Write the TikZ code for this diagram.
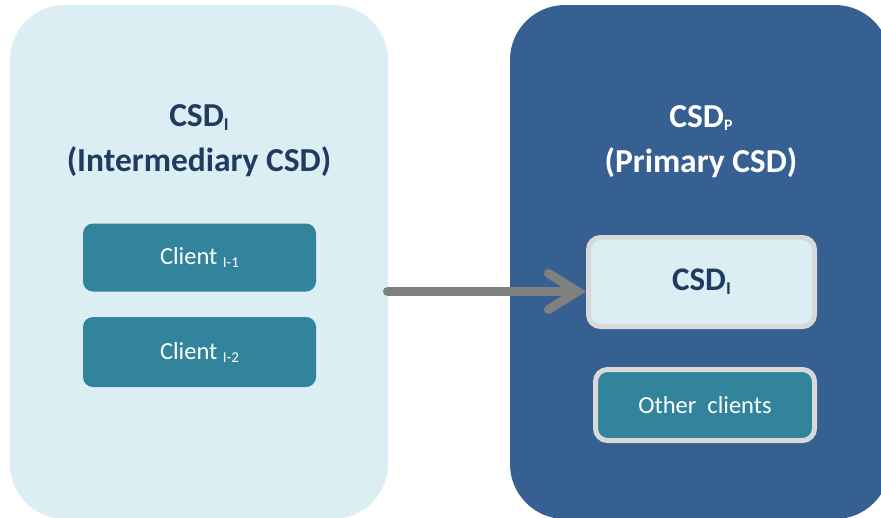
\documentclass[tikz,border=0pt]{standalone}
\usepackage{fontspec}
\setmainfont{Carlito}
\usetikzlibrary{calc}
\definecolor{paleblue}{HTML}{DBEEF4}
\definecolor{darkblue}{HTML}{376092}
\definecolor{tealc}{HTML}{31849B}
\definecolor{navy}{HTML}{1F3B5F}
\definecolor{lgray}{HTML}{D9D9D9}
\definecolor{agray}{HTML}{808080}
\tikzset{
  bigbox/.style={rectangle, rounded corners=55pt, inner sep=0pt},
  clientbox/.style={rectangle, rounded corners=10pt, fill=tealc, text=white, inner sep=0pt,
    minimum width=233pt, font=\fontsize{24.5}{28}\selectfont},
  framedbox/.style={rectangle, rounded corners=12pt, draw=lgray, line width=5pt, inner sep=0pt},
  titletext/.style={align=center, font=\bfseries\fontsize{33.5}{45}\selectfont, inner sep=0pt},
  conn/.style={draw=agray, line width=9pt, line cap=round, line join=miter}
}
\newcommand{\subI}[1]{{\fontsize{18}{18}\selectfont\raisebox{-4pt}{#1}}}
\newcommand{\subP}[1]{{\fontsize{16}{16}\selectfont\raisebox{-3pt}{#1}}}
\newcommand{\subC}[1]{{\fontsize{15}{15}\selectfont\raisebox{-3pt}{#1}}}
\begin{document}
\begin{tikzpicture}[x=1pt,y=-1pt]
\useasboundingbox (0,0) rectangle (881,517);
% big boxes
\node[bigbox, fill=paleblue, minimum width=378pt, minimum height=514pt] (left) at (199,262) {};
\node[bigbox, fill=darkblue, minimum width=380pt, minimum height=514pt] (right) at (700,262) {};
% titles
\node[titletext, text=navy, anchor=base] (titleI) at (199,171) {CSD\subI{I}\\(Intermediary CSD)};
\node[titletext, text=white, anchor=base] (titleP) at (701,172) {CSD\subP{P}\\(Primary CSD)};
% clients
\node[clientbox, minimum height=68pt] (c1) at (199.5,257.5) {Client \subC{I-1}};
\node[clientbox, minimum height=70pt] (c2) at (199.5,352) {Client \subC{I-2}};
% right inner boxes
\node[framedbox, fill=paleblue, text=navy, minimum width=226pt, minimum height=89pt,
  font=\bfseries\fontsize{33}{36}\selectfont] (csdI) at (701.5,282) {CSD\subI{I}};
\node[framedbox, fill=tealc, text=white, minimum width=219pt, minimum height=71pt,
  font=\fontsize{24.5}{28}\selectfont] (other) at (705,405) {Other\ \ clients};
% arrow
\coordinate (astart) at (387.5,291.5);
\coordinate (atip) at ([xshift=-8.5pt]csdI.west |- astart);
\draw[conn] (astart) -- (atip);
\draw[conn] ($(atip)+(-29,-18)$) -- (atip) -- ($(atip)+(-29,18)$);
\end{tikzpicture}
\end{document}
